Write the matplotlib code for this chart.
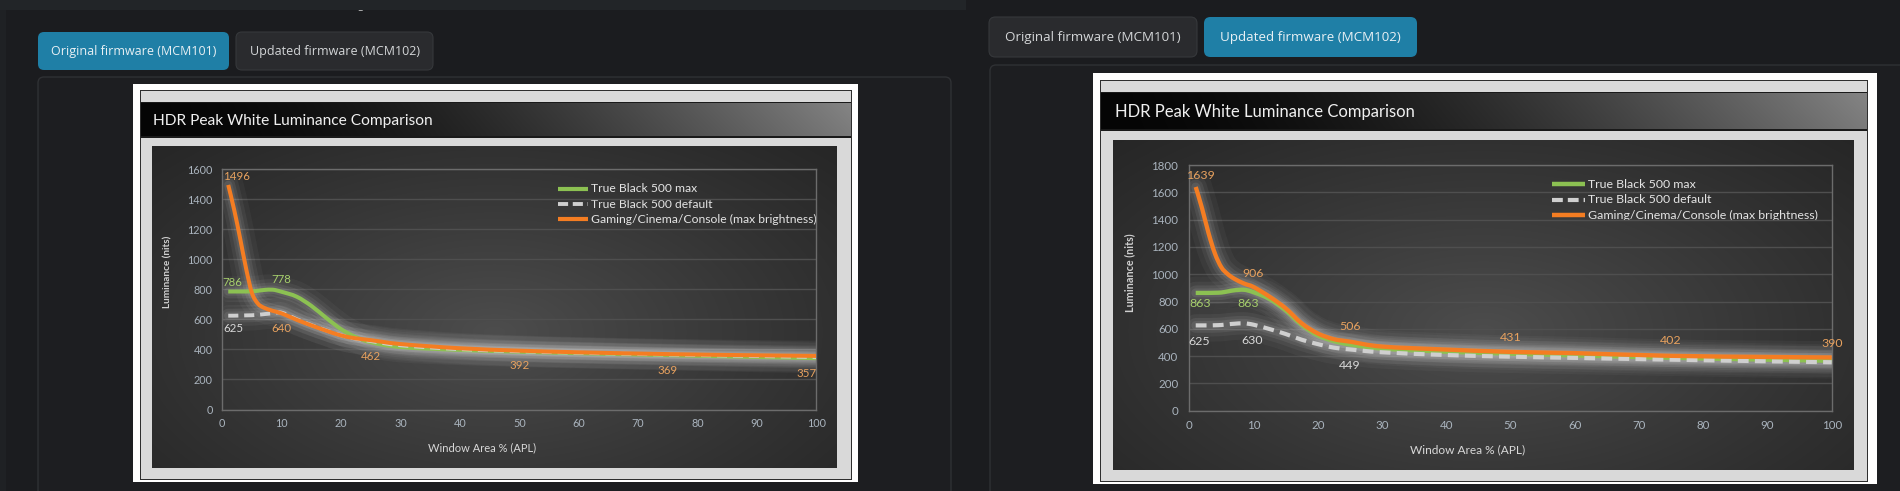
import numpy as np
import matplotlib
matplotlib.use("Agg")
import matplotlib.pyplot as plt
from matplotlib.patches import Rectangle, FancyBboxPatch, PathPatch
from matplotlib.path import Path

# ---------------- data ----------------
tab_labels = ["Original firmware (MCM101)", "Updated firmware (MCM102)"]
chart_title = "HDR Peak White Luminance Comparison"
x_axis_label = "Window Area % (APL)"
y_axis_label = "Luminance (nits)"
series_names = ["True Black 500 max", "True Black 500 default",
                "Gaming/Cinema/Console (max brightness)"]
x_ticks = [0, 10, 20, 30, 40, 50, 60, 70, 80, 90, 100]
y_ticks_original = [0, 200, 400, 600, 800, 1000, 1200, 1400, 1600]
y_ticks_updated = [0, 200, 400, 600, 800, 1000, 1200, 1400, 1600, 1800]

window_pct = [1, 2, 3, 4, 5, 6, 7, 8.5, 10, 12.5, 15, 17.5, 20, 22.5, 25, 30, 40, 50, 60, 75, 90, 100]

# original firmware (MCM101)
orig_tb_max = [786, 786, 786, 786, 787, 791, 796, 798, 784, 752, 690, 610, 535, 482, 448, 416, 397, 385, 375, 362, 350, 342]
orig_tb_default = [625, 625, 626, 627, 628, 631, 635, 641, 645, 602, 562, 527, 494, 472, 456, 428, 402, 388, 378, 366, 356, 350]
orig_gaming = [1496, 1330, 1140, 940, 775, 705, 678, 657, 640, 598, 560, 525, 493, 474, 462, 436, 408, 392, 381, 369, 361, 357]

# updated firmware (MCM102)
upd_tb_max = [863, 863, 863, 864, 866, 874, 882, 886, 868, 818, 735, 628, 552, 510, 485, 455, 432, 418, 405, 388, 374, 366]
upd_tb_default = [625, 625, 625, 626, 628, 633, 637, 640, 630, 598, 562, 520, 488, 462, 449, 428, 408, 396, 387, 374, 362, 355]
upd_gaming = [1639, 1480, 1300, 1150, 1050, 1000, 967, 932, 906, 835, 750, 640, 566, 524, 506, 470, 448, 431, 422, 402, 394, 390]

# data labels (series index, window %, value)
orig_label_series = [2, 2, 2, 2, 2, 2, 0, 0, 1]
orig_label_x = [1, 10, 25, 50, 75, 100, 1, 10, 1]
orig_label_vals = [1496, 640, 462, 392, 369, 357, 786, 778, 625]
upd_label_series = [2, 2, 2, 2, 2, 2, 0, 0, 1, 1, 1]
upd_label_x = [1, 10, 25, 50, 75, 100, 1, 10, 1, 10, 25]
upd_label_vals = [1639, 906, 506, 431, 402, 390, 863, 863, 625, 630, 449]

# ---------------- style ----------------
W, H, DPI = 1900, 491, 100
plt.rcParams['font.family'] = ['Lato', 'DejaVu Sans']

PAGE = '#1b1c1f'
LINE_COLORS = ['#8cc152', '#cfcfcf', '#f47d22']
LABEL_COLORS = ['#a6cf6c', '#d8d8d8', '#e8a25f']
TICK_COLOR = '#aab4be'

orig_label_offsets = [(8, 8), (0, -15), (0, -16), (0, -15), (0, -16), (-10, -18), (4, 9), (0, 13), (5, -13)]
upd_label_offsets = [(6, 11), (0, 14), (0, 15), (0, 14), (0, 15), (0, 14), (4, -11), (-5, -11), (3, -16), (-1, -16), (0, -16)]

fig = plt.figure(figsize=(W / DPI, H / DPI), dpi=DPI)
fig.patch.set_facecolor(PAGE)
bg = fig.add_axes([0, 0, 1, 1])
bg.set_xlim(0, W)
bg.set_ylim(H, 0)
bg.axis('off')


def rect(x0, y0, x1, y1, fc, ec='none', lw=0, z=1):
    bg.add_patch(Rectangle((x0, y0), x1 - x0, y1 - y0, fc=fc, ec=ec, lw=lw, zorder=z))


def rbox(x0, y0, x1, y1, fc, ec='none', lw=0, r=5, z=2):
    bg.add_patch(FancyBboxPatch((x0, y0), x1 - x0, y1 - y0,
                                boxstyle=f"round,pad=0,rounding_size={r}",
                                fc=fc, ec=ec, lw=lw, zorder=z))


def to_rgb255(h):
    h = h.lstrip('#')
    return np.array([int(h[i:i + 2], 16) for i in (0, 2, 4)]) / 255.0


def radial_bg(x0, y0, x1, y1, cx, cy, c_in, c_out, z=3):
    w, h = int(x1 - x0), int(y1 - y0)
    X, Y = np.meshgrid(np.linspace(0, 1, w), np.linspace(0, 1, h))
    r = np.sqrt(((X - cx) / 0.8) ** 2 + ((Y - cy) / 0.95) ** 2)
    t = np.clip(1 - r, 0, 1) ** 1.2
    ci, co = to_rgb255(c_in), to_rgb255(c_out)
    img = co[None, None, :] + (ci - co)[None, None, :] * t[:, :, None]
    bg.imshow(img, extent=(x0, x1, y1, y0), origin='upper', aspect='auto',
              interpolation='bilinear', zorder=z)


def title_bar(x0, y0, x1, y1, z=3):
    w, h = int(x1 - x0), int(y1 - y0)
    X, Y = np.meshgrid(np.linspace(0, 1, w), np.linspace(0, 1, h))
    v = 0.02 + 0.46 * X ** 1.7 + 0.04 * (1 - Y) * X
    img = np.dstack([v, v, v])
    bg.imshow(img, extent=(x0, x1, y1, y0), origin='upper', aspect='auto',
              interpolation='bilinear', zorder=z)
    rect(x0, y0 - 0.5, x1, y0 + 0.8, '#1a1a1a', z=z + 0.1)
    rect(x0, y1 - 0.8, x1, y1 + 0.5, '#1a1a1a', z=z + 0.1)


def catmull_path(xs, ys):
    P = np.column_stack([xs, ys]).astype(float)
    n = len(P)
    verts = [P[0]]
    codes = [Path.MOVETO]
    for i in range(n - 1):
        p0 = P[i - 1] if i > 0 else P[i]
        p1, p2 = P[i], P[i + 1]
        p3 = P[i + 2] if i + 2 < n else P[i + 1]
        verts += [p1 + (p2 - p0) / 6.0, p2 - (p3 - p1) / 6.0, p2]
        codes += [Path.CURVE4] * 3
    return Path(verts, codes)


def px_axes(x0, y0, x1, y1):
    return fig.add_axes([x0 / W, 1 - y1 / H, (x1 - x0) / W, (y1 - y0) / H])


def draw_panel(active, tabs_box, card_box, frame, gray, tbar, cbox, title_xy, title_fs,
               plot_box, ymax, yticks, series, lab_s, lab_x, lab_v, lab_off,
               tick_fs, ypad, xpad, xlabel_xy, ylabel_xy, legend_xy, leg_fs, lab_fs, scale):
    # tabs
    for i, (bx0, by0, bx1, by1) in enumerate(tabs_box):
        if i == active:
            rbox(bx0, by0, bx1, by1, '#1f7fa6', r=6 * scale)
            tc = '#e8f0f4'
        else:
            rbox(bx0, by0, bx1, by1, '#2a2b2e', ec='#36383b', lw=0.8, r=6 * scale)
            tc = '#d4d6d8'
        bg.text((bx0 + bx1) / 2, (by0 + by1) / 2 + 0.5, tab_labels[i], ha='center', va='center',
                color=tc, fontsize=9.0 * scale, family=['Open Sans', 'DejaVu Sans'], zorder=5)
    # card
    cx0, cy0, cx1, cy1 = card_box
    rbox(cx0, cy0, cx1, cy1, '#1d1e21', ec='#2f3134', lw=1.0, r=6, z=1.5)
    # chart image frame
    rect(*frame, fc='white', z=2)
    rect(gray[0] - 1, gray[1] - 1, gray[2] + 1, gray[3] + 1, fc='#2e2e2e', z=2.1)
    rect(*gray, fc='#d9d9d9', z=2.2)
    title_bar(*tbar)
    bg.text(title_xy[0], title_xy[1], chart_title, ha='left', va='baseline', color='#f0f0f0',
            fontsize=title_fs, zorder=6)
    radial_bg(*cbox, cx=0.5, cy=0.58, c_in='#4d4d4d', c_out='#232323')
    # plot axes
    ax = px_axes(*plot_box)
    ax.set_facecolor('none')
    ax.set_xlim(0, 100)
    ax.set_ylim(0, ymax)
    ax.set_xticks(x_ticks)
    ax.set_yticks(yticks)
    ax.tick_params(axis='both', length=0, colors=TICK_COLOR, labelsize=tick_fs)
    ax.tick_params(axis='y', pad=ypad)
    ax.tick_params(axis='x', pad=xpad)
    for s in ax.spines.values():
        s.set_color('#6c6c6c')
        s.set_linewidth(1.0)
    ax.set_axisbelow(True)
    ax.grid(axis='y', color='#4f4f4f', lw=1.0)
    ax.grid(axis='x', visible=False)
    paths = [catmull_path(window_pct, vals) for vals in series]
    for p in paths:
        for lw, a in [(22, 0.035), (15, 0.05), (10, 0.07), (6, 0.08)]:
            ax.add_patch(PathPatch(p, fill=False, ec='white', lw=lw * scale, alpha=a,
                                   capstyle='round', joinstyle='round', zorder=2))
    for i, p in enumerate(paths):
        if i == 1:
            ax.add_patch(PathPatch(p, fill=False, ec=LINE_COLORS[i], lw=2.8 * scale,
                                   linestyle=(0, (2.6, 1.5)), zorder=3 + i))
        else:
            ax.add_patch(PathPatch(p, fill=False, ec=LINE_COLORS[i], lw=2.9 * scale,
                                   capstyle='butt', zorder=3 + i))
    for s_i, xv, v, off in zip(lab_s, lab_x, lab_v, lab_off):
        ax.annotate(str(v), (xv, v), xytext=off, textcoords='offset pixels', ha='center',
                    va='center', color=LABEL_COLORS[s_i], fontsize=lab_fs, zorder=8)
    # axis titles
    bg.text(xlabel_xy[0], xlabel_xy[1], x_axis_label, ha='center', va='center',
            color='#d8d8d8', fontsize=8.0 * scale, zorder=6)
    bg.text(ylabel_xy[0], ylabel_xy[1], y_axis_label, ha='center', va='center', rotation=90,
            color='#d0d0d0', fontsize=7.2 * scale, fontweight='bold', zorder=6)
    # legend
    lx0, lx1, ly0, dy, tx = legend_xy
    for i, name in enumerate(series_names):
        yy = ly0 + i * dy
        if i == 1:
            bg.plot([lx0, lx1], [yy, yy], color=LINE_COLORS[i], lw=2.8 * scale,
                    linestyle=(0, (2.6, 1.2)), zorder=7)
        else:
            bg.plot([lx0, lx1], [yy, yy], color=LINE_COLORS[i], lw=3.0 * scale,
                    solid_capstyle='butt', zorder=7)
        bg.text(tx, yy, name, ha='left', va='center', color='#e4e4e4',
                fontsize=leg_fs, zorder=7)
    return ax


# page background pieces
rect(0, 0, 966, 10, '#222528', z=0.5)
rect(0, 10, 6, H, '#1f2124', z=0.5)
bg.text(361, 5, 'g', ha='center', va='center', color='#c8c8c8', fontsize=8, zorder=0.4)
rect(0, 0, 966, 9.5, '#222528', z=0.6)

# left panel: original firmware
draw_panel(active=0,
           tabs_box=[(38, 32, 229, 70), (236, 32, 433, 70)],
           card_box=(38, 77, 951, 505),
           frame=(133, 84, 858, 482), gray=(141, 91, 851, 479),
           tbar=(141, 102, 851, 137), cbox=(152, 146, 837, 468),
           title_xy=(153, 125), title_fs=11.2,
           plot_box=(222.3, 169.3, 816.3, 409.5), ymax=1600, yticks=y_ticks_original,
           series=[orig_tb_max, orig_tb_default, orig_gaming],
           lab_s=orig_label_series, lab_x=orig_label_x, lab_v=orig_label_vals,
           lab_off=orig_label_offsets, tick_fs=7.8, ypad=7, xpad=6,
           xlabel_xy=(482, 448), ylabel_xy=(168, 272),
           legend_xy=(558, 588, 189, 15, 591), leg_fs=8.7, lab_fs=8.3, scale=1.0)

# right panel: updated firmware
draw_panel(active=1,
           tabs_box=[(989, 17, 1197, 57), (1204, 17, 1417, 57)],
           card_box=(990, 65, 1915, 505),
           frame=(1093, 73, 1877, 484), gray=(1101, 80.7, 1867, 481),
           tbar=(1101, 92, 1867, 130), cbox=(1112.7, 140, 1853, 470),
           title_xy=(1115, 117), title_fs=12.0,
           plot_box=(1189.3, 165, 1831.7, 410.7), ymax=1800, yticks=y_ticks_updated,
           series=[upd_tb_max, upd_tb_default, upd_gaming],
           lab_s=upd_label_series, lab_x=upd_label_x, lab_v=upd_label_vals,
           lab_off=upd_label_offsets, tick_fs=8.3, ypad=8, xpad=6.5,
           xlabel_xy=(1468, 450), ylabel_xy=(1130, 273),
           legend_xy=(1552, 1585, 184, 15.5, 1588), leg_fs=8.9, lab_fs=8.9, scale=1.07)

bg.set_xlim(0, W)
bg.set_ylim(H, 0)
fig.savefig('out.png', dpi=DPI, facecolor=fig.get_facecolor())
